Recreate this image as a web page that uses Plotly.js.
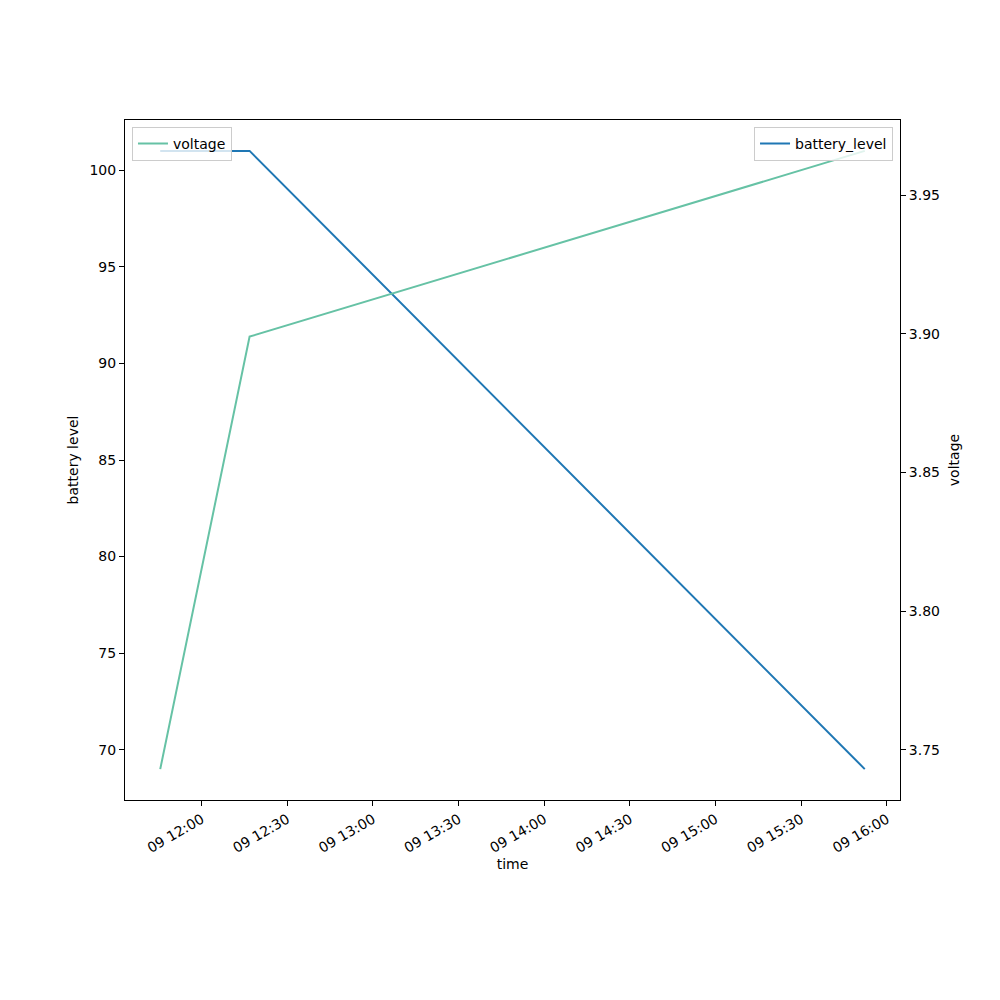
<!DOCTYPE html>
<html>
<head>
<meta charset="utf-8">
<script src="https://cdn.plot.ly/plotly-3.0.1.min.js"></script>
<style>html,body{margin:0;padding:0;background:#fff;}#chart{width:1000px;height:1000px;}</style>
</head>
<body>
<div id="chart"></div>
<script>
const times = ["2021-03-09 11:45:30", "2021-03-09 12:16:48", "2021-03-09 15:52:15"];
const batteryLevel = [101, 101, 69];
const voltage = [3.743, 3.899, 3.966];

function pad(lo, hi) { const d = (hi - lo) * 0.05; return [lo - d, hi + d]; }
const tms = times.map(t => new Date(t.replace(' ', 'T') + 'Z').getTime());
const xr = pad(Math.min(...tms), Math.max(...tms));
const fmt = ms => new Date(ms).toISOString().replace('T', ' ').replace('Z', '');
const yr = pad(Math.min(...batteryLevel), Math.max(...batteryLevel));
const y2r = pad(Math.min(...voltage), Math.max(...voltage));

const F = {family: 'DejaVu Sans', size: 14, color: '#000'};

const traces = [
  {x: times, y: batteryLevel, name: 'battery_level', type: 'scatter', mode: 'lines',
   line: {color: '#1f77b4', width: 2}, yaxis: 'y', legend: 'legend2'},
  {x: times, y: voltage, name: 'voltage', type: 'scatter', mode: 'lines',
   line: {color: '#66c2a5', width: 2}, yaxis: 'y2', legend: 'legend'}
];

const layout = {
  width: 1000, height: 1000,
  margin: {l: 125, r: 100, t: 120, b: 200},
  paper_bgcolor: '#fff', plot_bgcolor: '#fff',
  font: F,
  showlegend: true,
  xaxis: {
    type: 'date', range: [fmt(xr[0]), fmt(xr[1])],
    tick0: '2021-03-09 00:00:00', dtick: 1800000, tickformat: '%d %H:%M',
    tickangle: -30, ticks: 'outside', ticklen: 5, tickcolor: '#000',
    showline: true, linecolor: '#000', linewidth: 1, mirror: true,
    showgrid: false, zeroline: false,
    tickfont: F,
    title: {text: 'time', font: F, standoff: 3}
  },
  yaxis: {
    range: yr, tick0: 0, dtick: 5, ticks: 'outside', ticklen: 5, tickcolor: '#000',
    showline: true, linecolor: '#000', linewidth: 1,
    showgrid: false, zeroline: false,
    tickfont: F,
    title: {text: 'battery level', font: F, standoff: 7}
  },
  yaxis2: {
    range: y2r, overlaying: 'y', side: 'right', tick0: 0, dtick: 0.05, tickformat: '.2f',
    ticks: 'outside', ticklen: 5, tickcolor: '#000',
    showline: true, linecolor: '#000', linewidth: 1,
    showgrid: false, zeroline: false,
    tickfont: F,
    title: {text: 'voltage', font: F, standoff: 10}
  },
  legend: {
    x: 0.009, y: 0.99, xanchor: 'left', yanchor: 'top',
    bgcolor: 'rgba(255,255,255,0.8)', bordercolor: '#cccccc', borderwidth: 1,
    font: F
  },
  legend2: {
    x: 0.991, y: 0.99, xanchor: 'right', yanchor: 'top',
    bgcolor: 'rgba(255,255,255,0.8)', bordercolor: '#cccccc', borderwidth: 1,
    font: F
  }
};

Plotly.newPlot('chart', traces, layout, {displayModeBar: false, staticPlot: true});
</script>
</body>
</html>
